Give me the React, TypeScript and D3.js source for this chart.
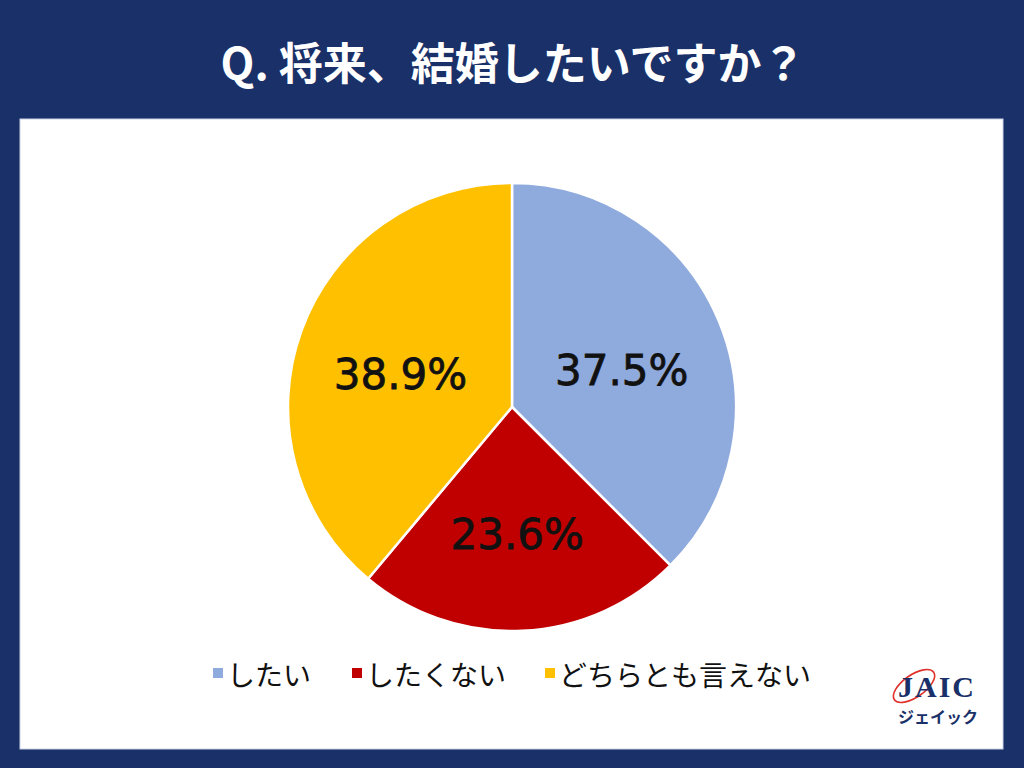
import React from "react";
import * as d3 from "d3";

const categories = ["したい", "したくない", "どちらとも言えない"];
const values = [37.5, 23.6, 38.9];
const colors = ["#8faadc", "#c00000", "#ffc000"];
const title = "Q. 将来、結婚したいですか？";

export default function App() {
  const W = 1024, H = 768;
  const cx = 512, cy = 407, r = 224;
  const pie = d3.pie<number>().sort(null).value((d) => d)(values);
  const arc = d3.arc<d3.PieArcDatum<number>>().innerRadius(0).outerRadius(r);
  const labelArc = d3.arc<d3.PieArcDatum<number>>().innerRadius(r * 0.53).outerRadius(r * 0.53);
  const font = "'Noto Sans CJK JP', 'Noto Sans', sans-serif";
  const legendX = [213, 352, 545];
  return (
    <svg width={W} height={H} style={{ position: "absolute", left: 0, top: 0 }}>
      <rect x={0} y={0} width={W} height={H} fill="#1a3068" />
      <rect x={20} y={119} width={983} height={630} fill="#ffffff" stroke="#c9d3e6" strokeWidth={1} />
      <text x={513} y={61} textAnchor="middle" dominantBaseline="central" fill="#ffffff"
        fontFamily={font} fontWeight={700} fontSize={44}>{title}</text>
      <g transform={`translate(${cx},${cy})`}>
        {pie.map((p, i) => (
          <path key={i} d={arc(p) || ""} fill={colors[i]} stroke="#ffffff" strokeWidth={2.5} strokeLinejoin="round" />
        ))}
        {pie.map((p, i) => {
          const [x, y] = labelArc.centroid(p);
          return (
            <text key={"l" + i} x={x} y={y + 23} textAnchor="middle"
              fontFamily="'DejaVu Sans', sans-serif" fontWeight={400} fontSize={42} fill="#111111"
              stroke="#111111" strokeWidth={0.8}>
              {values[i].toFixed(1)}%
            </text>
          );
        })}
      </g>
      <g>
        {categories.map((c, i) => (
          <g key={c}>
            <rect x={legendX[i]} y={668} width={10} height={10} fill={colors[i]} />
            <text x={legendX[i] + 14} y={674} dominantBaseline="central" fontFamily={font}
              fontSize={28} fill="#111111">{c}</text>
          </g>
        ))}
      </g>
      <g>
        <ellipse cx={914} cy={686} rx={24} ry={11} fill="none" stroke="#e0312b" strokeWidth={1.6}
          transform="rotate(-35 914 686)" />
        <text x={937} y={697} textAnchor="middle" fontFamily="'Liberation Serif', 'DejaVu Serif', serif"
          fontWeight={700} fontSize={30} letterSpacing={2} fill="#1a3068">JAIC</text>
        <text x={938} y={723} textAnchor="middle" fontFamily={font} fontWeight={700}
          fontSize={16} fill="#1a3068">ジェイック</text>
      </g>
    </svg>
  );
}
